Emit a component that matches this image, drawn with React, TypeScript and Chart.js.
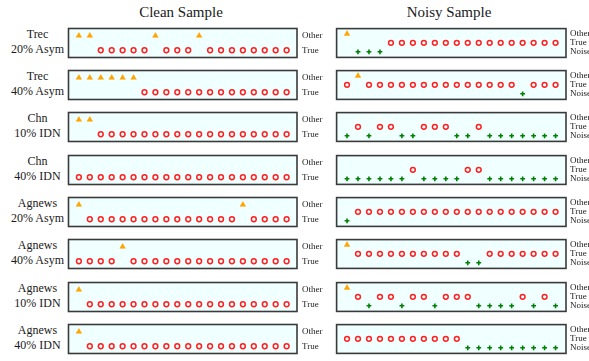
import React, { useEffect, useRef } from "react";
import { Chart, registerables } from "chart.js";

Chart.register(...registerables);

// ---------- data ----------
const columnTitles = ["Clean Sample", "Noisy Sample"];
const rowLabels = [
  ["Trec", "20% Asym"],
  ["Trec", "40% Asym"],
  ["Chn", "10% IDN"],
  ["Chn", "40% IDN"],
  ["Agnews", "20% Asym"],
  ["Agnews", "40% Asym"],
  ["Agnews", "10% IDN"],
  ["Agnews", "40% IDN"],
];
// y categories, bottom to top
const cleanCategories = ["True", "Other"];
const noisyCategories = ["Noise", "True", "Other"];
const sampleIndex = [0, 1, 2, 3, 4, 5, 6, 7, 8, 9, 10, 11, 12, 13, 14, 15, 16, 17, 18, 19];

// O = Other, T = True, N = Noise
const cleanTrec20Asym = ["O","O","T","T","T","T","T","O","T","T","T","O","T","T","T","T","T","T","T","T"];
const cleanTrec40Asym = ["O","O","O","O","O","O","T","T","T","T","T","T","T","T","T","T","T","T","T","T"];
const cleanChn10IDN = ["O","O","T","T","T","T","T","T","T","T","T","T","T","T","T","T","T","T","T","T"];
const cleanChn40IDN = ["T","T","T","T","T","T","T","T","T","T","T","T","T","T","T","T","T","T","T","T"];
const cleanAgnews20Asym = ["O","T","T","T","T","T","T","T","T","T","T","T","T","T","T","O","T","T","T","T"];
const cleanAgnews40Asym = ["T","T","T","T","O","T","T","T","T","T","T","T","T","T","T","T","T","T","T","T"];
const cleanAgnews10IDN = ["O","T","T","T","T","T","T","T","T","T","T","T","T","T","T","T","T","T","T","T"];
const cleanAgnews40IDN = ["O","T","T","T","T","T","T","T","T","T","T","T","T","T","T","T","T","T","T","T"];

const noisyTrec20Asym = ["O","N","N","N","T","T","T","T","T","T","T","T","T","T","T","T","T","T","T","T"];
const noisyTrec40Asym = ["T","O","T","T","T","T","T","T","T","T","T","T","T","T","T","T","N","T","T","T"];
const noisyChn10IDN = ["N","T","N","T","T","N","N","T","T","T","N","N","T","N","N","N","N","N","N","N"];
const noisyChn40IDN = ["N","N","N","N","N","N","T","N","N","N","N","T","T","N","N","N","N","N","N","N"];
const noisyAgnews20Asym = ["N","T","T","T","T","T","T","T","T","T","T","T","T","T","T","T","T","T","T","T"];
const noisyAgnews40Asym = ["O","T","T","T","T","T","T","T","T","T","T","N","N","T","T","T","T","T","T","T"];
const noisyAgnews10IDN = ["O","T","N","T","T","N","T","T","N","T","T","T","N","N","N","N","T","N","T","N"];
const noisyAgnews40IDN = ["T","T","T","T","T","T","T","T","T","T","T","N","N","N","N","N","N","N","N","N"];

const cleanRows = [cleanTrec20Asym, cleanTrec40Asym, cleanChn10IDN, cleanChn40IDN, cleanAgnews20Asym, cleanAgnews40Asym, cleanAgnews10IDN, cleanAgnews40IDN];
const noisyRows = [noisyTrec20Asym, noisyTrec40Asym, noisyChn10IDN, noisyChn40IDN, noisyAgnews20Asym, noisyAgnews40Asym, noisyAgnews10IDN, noisyAgnews40IDN];

// ---------- layout / style ----------
const ROW_TOPS = [25, 67, 109, 152, 194, 236, 279, 321];
const PANEL_H = 36;
const SERIF = '"Liberation Serif", "Times New Roman", serif';

const codeToName: Record<string, string> = { O: "Other", T: "True", N: "Noise" };
const markerStyle: Record<string, any> = {
  Other: { pointStyle: "triangle", radius: 3.2, backgroundColor: "#FFA500", borderColor: "#FFA500", borderWidth: 0.5 },
  True: { pointStyle: "circle", radius: 2.4, backgroundColor: "rgba(255,255,255,0.6)", borderColor: "#FF2020", borderWidth: 1.5 },
  Noise: { pointStyle: "cross", radius: 2.4, backgroundColor: "#008000", borderColor: "#008000", borderWidth: 1.6 },
};

type PanelProps = {
  row: string[];
  categories: string[];
  yMin: number;
  yMax: number;
  left: number;
  top: number;
  areaW: number;
  labelW: number;
  labelPad: number;
};

function Panel({ row, categories, yMin, yMax, left, top, areaW, labelW, labelPad }: PanelProps) {
  const ref = useRef<HTMLCanvasElement | null>(null);
  const cw = 2 + areaW + labelW;
  const ch = PANEL_H + 4;

  useEffect(() => {
    const canvas = ref.current;
    if (!canvas) return;
    const datasets = categories
      .slice()
      .reverse()
      .map((cat) => {
        const pts = sampleIndex
          .filter((i) => codeToName[row[i]] === cat)
          .map((i) => ({ x: i, y: categories.indexOf(cat) }));
        const s = markerStyle[cat];
        return {
          label: cat,
          data: pts,
          showLine: false,
          pointStyle: s.pointStyle,
          pointRadius: s.radius,
          pointBackgroundColor: s.backgroundColor,
          pointBorderColor: s.borderColor,
          pointBorderWidth: s.borderWidth,
          clip: false as any,
        };
      });

    const panelPlugin = {
      id: "panelBox",
      beforeDatasetsDraw(chart: any) {
        const { ctx, chartArea: a } = chart;
        ctx.save();
        ctx.fillStyle = "#F0FFFF";
        ctx.fillRect(a.left, a.top, a.right - a.left, a.bottom - a.top);
        ctx.restore();
      },
      afterDatasetsDraw(chart: any) {
        const { ctx, chartArea: a } = chart;
        const yScale = chart.scales.y;
        ctx.save();
        ctx.strokeStyle = "#3a3a3a";
        ctx.lineWidth = 1.6;
        ctx.strokeRect(a.left, a.top, a.right - a.left, a.bottom - a.top);
        // category labels on the right side of the panel
        ctx.font = `9px ${SERIF}`;
        ctx.fillStyle = "#1a1a1a";
        ctx.textAlign = "left";
        ctx.textBaseline = "middle";
        categories.forEach((c, i) => {
          ctx.fillText(c, a.right + labelPad, yScale.getPixelForValue(i));
        });
        ctx.restore();
      },
    };

    const chart = new Chart(canvas, {
      type: "scatter",
      data: { datasets },
      options: {
        animation: false,
        responsive: false,
        maintainAspectRatio: false,
        events: [],
        layout: { padding: { left: 2, top: 2, bottom: 2, right: labelW } },
        plugins: { legend: { display: false }, tooltip: { enabled: false }, title: { display: false } },
        scales: {
          x: { type: "linear", display: false, min: -0.95, max: 19.95 },
          y: { type: "linear", display: false, min: yMin, max: yMax },
        },
      },
      plugins: [panelPlugin],
    });
    return () => chart.destroy();
  }, []);

  return (
    <canvas
      ref={ref}
      width={cw}
      height={ch}
      style={{ position: "absolute", left: left - 2, top: top - 2, width: cw, height: ch, display: "block" }}
    />
  );
}

export default function App() {
  return (
    <div style={{ position: "absolute", left: 0, top: 0, width: 589, height: 361, overflow: "hidden", fontFamily: SERIF, color: "#1a1a1a", background: "#fff" }}>
      <div style={{ position: "absolute", left: 81, width: 200, top: 3, textAlign: "center", fontSize: 15, lineHeight: "19px" }}>{columnTitles[0]}</div>
      <div style={{ position: "absolute", left: 349, width: 200, top: 3, textAlign: "center", fontSize: 15, lineHeight: "19px" }}>{columnTitles[1]}</div>
      {rowLabels.map((lab, r) => (
        <div
          key={"lab" + r}
          style={{ position: "absolute", left: 0, width: 75, top: ROW_TOPS[r] + 18 - 16, textAlign: "center", fontSize: 12, lineHeight: "15px", whiteSpace: "nowrap" }}
        >
          {lab[0]}
          <br />
          {lab[1]}
        </div>
      ))}
      {cleanRows.map((row, r) => (
        <Panel key={"c" + r} row={row} categories={cleanCategories} yMin={-0.5} yMax={1.5} left={65} top={ROW_TOPS[r]} areaW={232} labelW={32} labelPad={5} />
      ))}
      {noisyRows.map((row, r) => (
        <Panel key={"n" + r} row={row} categories={noisyCategories} yMin={-0.62} yMax={2.58} left={333} top={ROW_TOPS[r]} areaW={233} labelW={23} labelPad={4} />
      ))}
    </div>
  );
}
